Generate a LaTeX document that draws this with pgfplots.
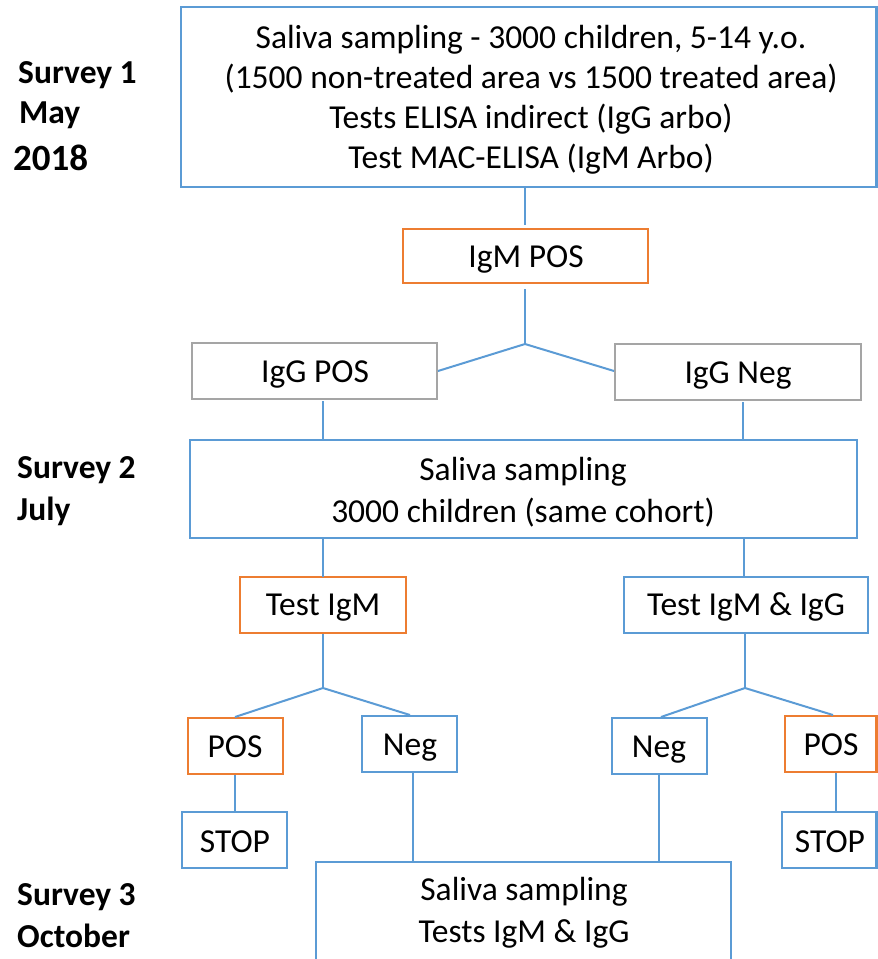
\documentclass[border=0pt]{standalone}
\usepackage{fontspec}
\setmainfont{Carlito}
\usepackage{pgfplots}
\pgfplotsset{compat=1.18}
\definecolor{bblue}{HTML}{5B9BD5}
\definecolor{borange}{HTML}{ED7D31}
\definecolor{bgray}{HTML}{A5A5A5}
\begin{document}
\fontsize{33.5}{40}\selectfont
\begin{tikzpicture}
\begin{axis}[scale only axis, width=878pt, height=959pt,
  xmin=0, xmax=878, ymin=0, ymax=959, y dir=reverse, hide axis, clip=false,
  bx/.style={draw=bblue, line width=2.5pt, line cap=rect, line join=miter, mark=none},
  ox/.style={draw=borange, line width=2.5pt, line cap=rect, line join=miter, mark=none},
  gx/.style={draw=bgray, line width=2.5pt, line cap=rect, line join=miter, mark=none},
  cn/.style={draw=bblue, line width=2pt, line cap=butt, line join=miter, mark=none},
  every node/.style={font=\fontsize{33.5}{40}\selectfont}]
% ---- boxes ----
% Survey 1 box
\addplot[bx] coordinates {(181,7)(876.5,7)(876.5,187)(181,187)(181,7)};
% IgM POS
\addplot[ox] coordinates {(403,229)(648,229)(648,283)(403,283)(403,229)};
% IgG POS / IgG Neg
\addplot[gx] coordinates {(192,343)(437,343)(437,399)(192,399)(192,343)};
\addplot[gx] coordinates {(615,344)(861,344)(861,400)(615,400)(615,344)};
% Survey 2 box
\addplot[bx] coordinates {(190,440)(857,440)(857,538)(190,538)(190,440)};
% Test IgM / Test IgM & IgG
\addplot[ox] coordinates {(240,577)(406,577)(406,633)(240,633)(240,577)};
\addplot[bx] coordinates {(624,577)(868,577)(868,633)(624,633)(624,577)};
% POS / Neg / Neg / POS
\addplot[ox] coordinates {(188,718)(283,718)(283,774)(188,774)(188,718)};
\addplot[bx] coordinates {(362,716)(457,716)(457,772)(362,772)(362,716)};
\addplot[bx] coordinates {(612,718)(707,718)(707,774)(612,774)(612,718)};
\addplot[ox] coordinates {(785,716)(876.5,716)(876.5,772)(785,772)(785,716)};
% STOP boxes
\addplot[bx] coordinates {(182,812)(287,812)(287,868)(182,868)(182,812)};
\addplot[bx] coordinates {(782,812)(876.5,812)(876.5,868)(782,868)(782,812)};
% Survey 3 box (bottom cut off)
\addplot[draw=bblue, line width=2.5pt, line cap=butt, line join=miter, mark=none]
  coordinates {(316,959)(316,862)(731,862)(731,959)};
% ---- connectors ----
\addplot[cn] coordinates {(525,188)(525,225)};
\addplot[cn] coordinates {(525,289)(525,344)};
\addplot[cn] coordinates {(438,371)(525,344)(614,371)};
\addplot[cn] coordinates {(323,401)(323,439)};
\addplot[cn] coordinates {(743,402)(743,439)};
\addplot[cn] coordinates {(323,539)(323,577)};
\addplot[cn] coordinates {(744,539)(744,577)};
\addplot[cn] coordinates {(323,634)(323,688)};
\addplot[cn] coordinates {(235,717)(323,688)(410,715)};
\addplot[cn] coordinates {(745,634)(745,688)};
\addplot[cn] coordinates {(661,717)(745,688)(833,715)};
\addplot[cn] coordinates {(235,775)(235,812)};
\addplot[cn] coordinates {(836,773)(836,812)};
\addplot[cn] coordinates {(413,773)(413,862)};
\addplot[cn] coordinates {(659,775)(659,862)};
% ---- text ----
\node[anchor=base] at (axis cs:531,48) {Saliva sampling - 3000 children, 5-14 y.o.};
\node[anchor=base] at (axis cs:531,88) {(1500 non-treated area vs 1500 treated area)};
\node[anchor=base] at (axis cs:531,128) {Tests ELISA indirect (IgG arbo)};
\node[anchor=base] at (axis cs:531,168) {Test MAC-ELISA (IgM Arbo)};
\node[anchor=base] at (axis cs:526,267) {IgM POS};
\node[anchor=base] at (axis cs:315,382) {IgG POS};
\node[anchor=base] at (axis cs:738,383) {IgG Neg};
\node[anchor=base] at (axis cs:523,480) {Saliva sampling};
\node[anchor=base] at (axis cs:523,522) {3000 children (same cohort)};
\node[anchor=base] at (axis cs:323,615) {Test IgM};
\node[anchor=base] at (axis cs:746,615) {Test IgM \& IgG};
\node[anchor=base] at (axis cs:235,757) {POS};
\node[anchor=base] at (axis cs:410,755) {Neg};
\node[anchor=base] at (axis cs:659,757) {Neg};
\node[anchor=base] at (axis cs:831,755) {POS};
\node[anchor=base] at (axis cs:235,852) {STOP};
\node[anchor=base] at (axis cs:830,852) {STOP};
\node[anchor=base] at (axis cs:524,900) {Saliva sampling};
\node[anchor=base] at (axis cs:524,942) {Tests IgM \& IgG};
% left labels
\node[anchor=base west, inner sep=0pt] at (axis cs:18,83) {\bfseries Survey 1};
\node[anchor=base west, inner sep=0pt] at (axis cs:19,123) {\bfseries May};
\node[anchor=base west, inner sep=0pt] at (axis cs:13,170) {\fontsize{37}{40}\selectfont\bfseries 2018};
\node[anchor=base west, inner sep=0pt] at (axis cs:17,478) {\bfseries Survey 2};
\node[anchor=base west, inner sep=0pt] at (axis cs:17,520) {\bfseries July};
\node[anchor=base west, inner sep=0pt] at (axis cs:17,905) {\bfseries Survey 3};
\node[anchor=base west, inner sep=0pt] at (axis cs:17,947) {\bfseries October};
\end{axis}
\pgfresetboundingbox
\useasboundingbox (current axis.south west) rectangle (current axis.north east);
\end{tikzpicture}
\end{document}
